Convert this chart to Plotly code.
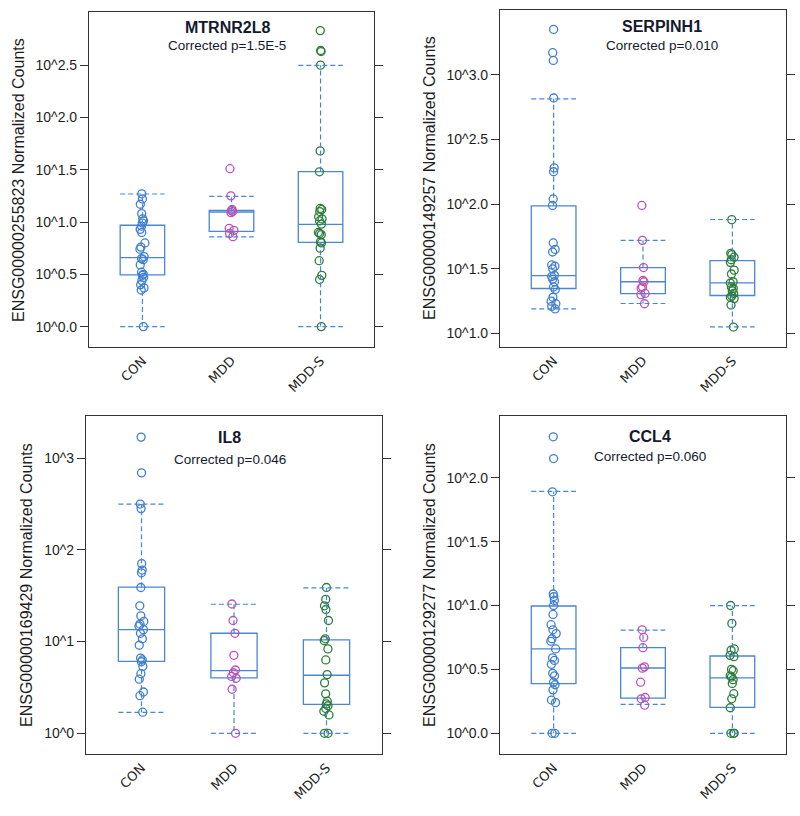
import plotly.graph_objects as go

# ---------------- data (log10 of normalized counts) ----------------
groups = ["CON", "MDD", "MDD-S"]
genes = ["MTRNR2L8", "SERPINH1", "IL8", "CCL4"]
ensg_ids = ["ENSG00000255823", "ENSG00000149257", "ENSG00000169429", "ENSG00000129277"]
pvalues = ["Corrected p=1.5E-5", "Corrected p=0.010", "Corrected p=0.046", "Corrected p=0.060"]

# MTRNR2L8
mtr_con = [1.27, 1.22, 1.17, 1.08, 1.03, 1.01, 0.99, 0.96, 0.93, 0.90, 0.80, 0.76, 0.74,
           0.67, 0.65, 0.64, 0.59, 0.52, 0.50, 0.49, 0.47, 0.44, 0.40, 0.37, 0.35, 0.0]
mtr_mdd = [1.51, 1.25, 1.12, 1.11, 1.10, 1.09, 0.94, 0.92, 0.89, 0.86]
mtr_mdds = [2.83, 2.64, 2.63, 2.50, 1.68, 1.48, 1.13, 1.12, 1.10, 1.05, 1.03, 1.01, 0.98,
            0.90, 0.89, 0.88, 0.81, 0.80, 0.75, 0.63, 0.49, 0.45, 0.0]
# box stats: lower whisker, q1, median, q3, upper whisker
mtr_stats = [[0.0, 0.494, 0.66, 0.969, 1.268],
             [0.857, 0.91, 1.096, 1.112, 1.246],
             [0.0, 0.806, 0.978, 1.482, 2.498]]

# SERPINH1
ser_con = [3.35, 3.17, 3.11, 2.82, 2.28, 2.25, 2.04, 1.99, 1.70, 1.65, 1.63, 1.53, 1.52,
           1.50, 1.45, 1.44, 1.42, 1.40, 1.36, 1.34, 1.28, 1.25, 1.23, 1.21, 1.19]
ser_mdd = [1.99, 1.72, 1.51, 1.41, 1.40, 1.36, 1.35, 1.31, 1.30, 1.23]
ser_mdds = [1.88, 1.62, 1.61, 1.59, 1.57, 1.55, 1.49, 1.46, 1.40, 1.39, 1.36, 1.35, 1.33,
            1.31, 1.29, 1.28, 1.27, 1.22, 1.05]
ser_stats = [[1.19, 1.348, 1.448, 1.987, 2.814],
             [1.232, 1.309, 1.40, 1.51, 1.72],
             [1.052, 1.294, 1.392, 1.564, 1.881]]

# IL8
il8_con = [3.23, 2.84, 2.50, 2.45, 1.85, 1.78, 1.75, 1.59, 1.39, 1.28, 1.22, 1.19, 1.17,
           1.13, 1.09, 1.03, 0.96, 0.82, 0.80, 0.78, 0.73, 0.65, 0.59, 0.45, 0.41, 0.23]
il8_mdd = [1.41, 1.23, 1.09, 0.85, 0.69, 0.66, 0.62, 0.60, 0.48, 0.0]
il8_mdds = [1.59, 1.46, 1.39, 1.35, 1.23, 1.03, 1.01, 0.92, 0.80, 0.64, 0.55, 0.43, 0.35,
            0.32, 0.30, 0.27, 0.24, 0.20, 0.0, 0.0]
il8_stats = [[0.229, 0.785, 1.131, 1.593, 2.498],
             [0.0, 0.604, 0.684, 1.091, 1.407],
             [0.0, 0.316, 0.633, 1.018, 1.585]]

# CCL4
ccl_con = [2.32, 2.15, 1.89, 1.09, 1.07, 1.04, 1.00, 0.93, 0.85, 0.81, 0.78, 0.74, 0.72,
           0.66, 0.59, 0.57, 0.54, 0.47, 0.45, 0.40, 0.38, 0.34, 0.26, 0.24, 0.0, 0.0]
ccl_mdd = [0.81, 0.75, 0.67, 0.52, 0.51, 0.40, 0.28, 0.27, 0.22]
ccl_mdds = [1.00, 0.86, 0.66, 0.65, 0.61, 0.60, 0.50, 0.49, 0.45, 0.44, 0.42, 0.39, 0.31,
            0.27, 0.20, 0.0, 0.0, 0.0]
ccl_stats = [[0.0, 0.389, 0.66, 0.996, 1.893],
             [0.227, 0.276, 0.511, 0.67, 0.808],
             [0.0, 0.203, 0.433, 0.605, 0.999]]

# tick values / labels
tick_vals = [[0.0, 0.5, 1.0, 1.5, 2.0, 2.5],
             [1.0, 1.5, 2.0, 2.5, 3.0],
             [0, 1, 2, 3],
             [0.0, 0.5, 1.0, 1.5, 2.0]]
tick_text = [["10^0.0", "10^0.5", "10^1.0", "10^1.5", "10^2.0", "10^2.5"],
             ["10^1.0", "10^1.5", "10^2.0", "10^2.5", "10^3.0"],
             ["10^0", "10^1", "10^2", "10^3"],
             ["10^0.0", "10^0.5", "10^1.0", "10^1.5", "10^2.0"]]

# ---------------- layout / style ----------------
W, H = 800, 816
panel_points = [[mtr_con, mtr_mdd, mtr_mdds], [ser_con, ser_mdd, ser_mdds],
                [il8_con, il8_mdd, il8_mdds], [ccl_con, ccl_mdd, ccl_mdds]]
panel_stats = [mtr_stats, ser_stats, il8_stats, ccl_stats]
# pixel boxes (left, right, top, bottom)
frames = [(89, 374, 12, 347), (500, 786, 10, 347), (86, 382, 416, 754), (500, 786, 416, 754)]
yranges = [[-0.195, 3.008], [0.896, 3.5], [-0.226, 3.46], [-0.162, 2.483]]
title_pos = [(227, 28, 45), (662, 26, 45), (230, 437, 459), (650, 436, 456)]
ytitle_pos = [(18, 180), (429, 178), (26, 585), (429, 585)]

box_color = "#4a86d4"
point_colors = ["#3f7fd0", "#c050b8", "#2b7d3b"]
frame_color = "#333333"
text_color = "#1e1e1e"
half_w = 0.25

fig = go.Figure()
layout = dict(width=W, height=H, autosize=False, showlegend=False,
              margin=dict(l=0, r=0, t=0, b=0),
              plot_bgcolor="white", paper_bgcolor="white",
              boxmode="overlay", annotations=[])

for i in range(4):
    xa = "x" if i == 0 else f"x{i+1}"
    ya = "y" if i == 0 else f"y{i+1}"
    L, R, T, B = frames[i]
    layout["xaxis" if i == 0 else f"xaxis{i+1}"] = dict(
        domain=[L / W, R / W], range=[-0.6, 2.6], anchor=ya,
        tickvals=list(range(len(groups))), ticktext=groups, tickangle=-45,
        ticks="", showgrid=False, zeroline=False, showline=True, mirror=True,
        linecolor=frame_color, linewidth=1.2,
        tickfont=dict(family="DejaVu Sans, sans-serif", size=13, color=text_color))
    layout["yaxis" if i == 0 else f"yaxis{i+1}"] = dict(
        domain=[1 - B / H, 1 - T / H], range=yranges[i], anchor=xa,
        tickvals=tick_vals[i], ticktext=tick_text[i],
        ticks="outside", ticklen=8, tickwidth=1.2, tickcolor=frame_color,
        showgrid=False, zeroline=False, showline=True, mirror="ticks",
        linecolor=frame_color, linewidth=1.2,
        tickfont=dict(family="Liberation Sans, Arial, sans-serif", size=14, color=text_color))

    for g in range(3):
        lo, q1, med, q3, hi = panel_stats[i][g]
        # dashed whiskers with caps
        fig.add_trace(go.Scatter(
            x=[g, g, None, g, g, None, g - half_w, g + half_w, None, g - half_w, g + half_w],
            y=[q3, hi, None, q1, lo, None, hi, hi, None, lo, lo],
            mode="lines", line=dict(color=box_color, width=1.2, dash="5px,3px"),
            hoverinfo="skip", xaxis=xa, yaxis=ya))
        # box
        fig.add_trace(go.Box(
            x=[g], q1=[q1], median=[med], q3=[q3], lowerfence=[q1], upperfence=[q3],
            width=2 * half_w, boxpoints=False, fillcolor="rgba(0,0,0,0)",
            line=dict(color=box_color, width=1.3), xaxis=xa, yaxis=ya))
    for g in range(3):
        vals = panel_points[i][g]
        fig.add_trace(go.Box(
            y=vals, x0=g, width=2 * half_w, boxpoints="all", jitter=0.14, pointpos=0,
            fillcolor="rgba(0,0,0,0)", line=dict(color="rgba(0,0,0,0)", width=0),
            marker=dict(symbol="circle-open", size=8, color=point_colors[g],
                        line=dict(width=1.3, color=point_colors[g])),
            xaxis=xa, yaxis=ya))

    tx, ty1, ty2 = title_pos[i]
    layout["annotations"].append(dict(
        text=f"<b>{genes[i]}</b>", x=tx / W, y=1 - ty1 / H, xref="paper", yref="paper",
        showarrow=False, xanchor="center", yanchor="middle",
        font=dict(family="Liberation Sans, Arial, sans-serif", size=16, color="#141a2e")))
    layout["annotations"].append(dict(
        text=pvalues[i], x=tx / W, y=1 - ty2 / H, xref="paper", yref="paper",
        showarrow=False, xanchor="center", yanchor="middle",
        font=dict(family="Liberation Sans, Arial, sans-serif", size=13.5, color="#141a2e")))
    yx, yy = ytitle_pos[i]
    layout["annotations"].append(dict(
        text=f"{ensg_ids[i]} Normalized Counts", x=yx / W, y=1 - yy / H,
        xref="paper", yref="paper", showarrow=False, textangle=-90,
        xanchor="center", yanchor="middle",
        font=dict(family="Liberation Sans, Arial, sans-serif", size=16, color=text_color)))

fig.update_layout(**layout)
# remove the default page margin so the figure sits at the window's top-left corner
fig.write_html("out.html", config={"displayModeBar": False},
               post_script="document.body.style.margin='0';document.body.style.overflow='hidden';")
